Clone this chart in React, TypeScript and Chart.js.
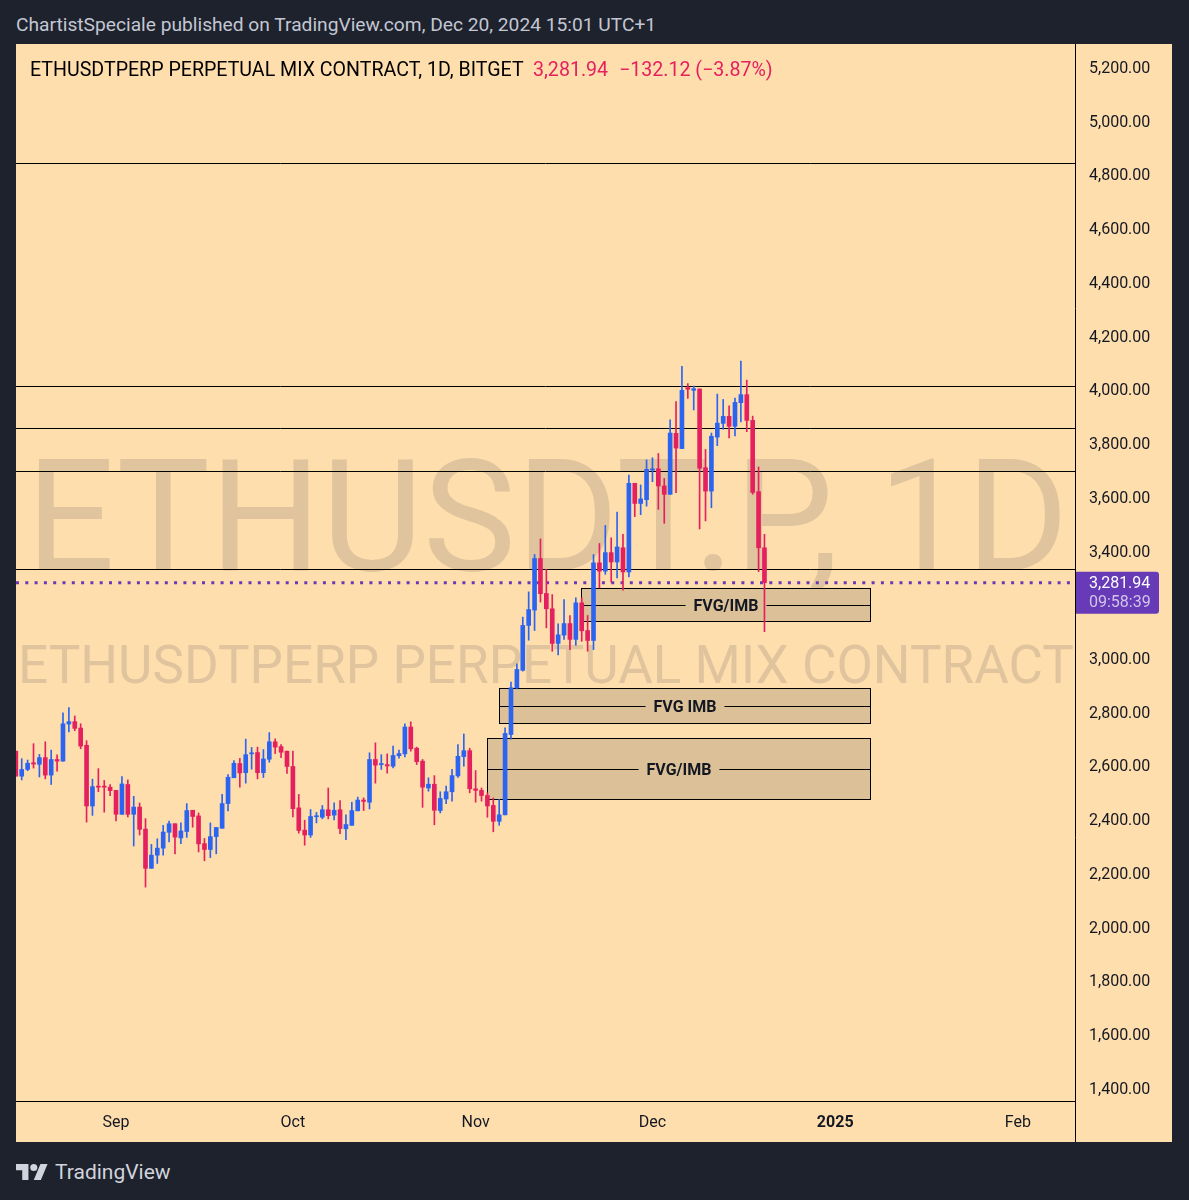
import React, { useEffect, useRef } from 'react';
import { Chart, registerables } from 'chart.js';

Chart.register(...registerables);

// one candle per day, Aug 15 to Dec 20 2024
const dates = [
  'Aug 15', 'Aug 16', 'Aug 17', 'Aug 18', 'Aug 19', 'Aug 20', 'Aug 21', 'Aug 22', 'Aug 23', 'Aug 24', 'Aug 25', 'Aug 26', 'Aug 27', 'Aug 28', 'Aug 29', 'Aug 30', 'Aug 31',
  'Sep 1', 'Sep 2', 'Sep 3', 'Sep 4', 'Sep 5', 'Sep 6', 'Sep 7', 'Sep 8', 'Sep 9', 'Sep 10', 'Sep 11', 'Sep 12', 'Sep 13', 'Sep 14', 'Sep 15', 'Sep 16', 'Sep 17', 'Sep 18', 'Sep 19', 'Sep 20', 'Sep 21', 'Sep 22', 'Sep 23', 'Sep 24', 'Sep 25', 'Sep 26', 'Sep 27', 'Sep 28', 'Sep 29', 'Sep 30',
  'Oct 1', 'Oct 2', 'Oct 3', 'Oct 4', 'Oct 5', 'Oct 6', 'Oct 7', 'Oct 8', 'Oct 9', 'Oct 10', 'Oct 11', 'Oct 12', 'Oct 13', 'Oct 14', 'Oct 15', 'Oct 16', 'Oct 17', 'Oct 18', 'Oct 19', 'Oct 20', 'Oct 21', 'Oct 22', 'Oct 23', 'Oct 24', 'Oct 25', 'Oct 26', 'Oct 27', 'Oct 28', 'Oct 29', 'Oct 30', 'Oct 31',
  'Nov 1', 'Nov 2', 'Nov 3', 'Nov 4', 'Nov 5', 'Nov 6', 'Nov 7', 'Nov 8', 'Nov 9', 'Nov 10', 'Nov 11', 'Nov 12', 'Nov 13', 'Nov 14', 'Nov 15', 'Nov 16', 'Nov 17', 'Nov 18', 'Nov 19', 'Nov 20', 'Nov 21', 'Nov 22', 'Nov 23', 'Nov 24', 'Nov 25', 'Nov 26', 'Nov 27', 'Nov 28', 'Nov 29', 'Nov 30',
  'Dec 1', 'Dec 2', 'Dec 3', 'Dec 4', 'Dec 5', 'Dec 6', 'Dec 7', 'Dec 8', 'Dec 9', 'Dec 10', 'Dec 11', 'Dec 12', 'Dec 13', 'Dec 14', 'Dec 15', 'Dec 16', 'Dec 17', 'Dec 18', 'Dec 19', 'Dec 20',
];

const opens = [
  2655, 2562, 2587, 2612, 2606, 2631, 2566, 2624, 2618, 2756, 2765, 2741, 2677, 2451, 2525, 2525, 2521,
  2509, 2420, 2531, 2420, 2447, 2365, 2219, 2268, 2294, 2353, 2385, 2332, 2356, 2435, 2414, 2311, 2289, 2337, 2368, 2460, 2556, 2609, 2575, 2645, 2650, 2575, 2625, 2690, 2672, 2655,
  2598, 2444, 2361, 2343, 2411, 2409, 2437, 2417, 2437, 2366, 2379, 2433, 2473, 2465, 2624, 2605, 2605, 2599, 2638, 2645, 2745, 2666, 2618, 2518, 2532, 2434, 2477, 2504, 2563, 2635, 2657,
  2515, 2509, 2490, 2453, 2394, 2418, 2717, 2891, 2956, 3123, 3180, 3372, 3242, 3185, 3056, 3087, 3130, 3071, 3207, 3104, 3067, 3356, 3325, 3394, 3359, 3412, 3322, 3652, 3577, 3591,
  3701, 3706, 3642, 3611, 3838, 3781, 4008, 3998, 4003, 3710, 3623, 3824, 3875, 3901, 3864, 3952, 3982, 3886, 3621, 3412,
];
const highs = [
  2655, 2627, 2622, 2683, 2643, 2690, 2659, 2641, 2798, 2817, 2786, 2757, 2694, 2551, 2590, 2546, 2531,
  2509, 2560, 2548, 2487, 2462, 2404, 2308, 2329, 2379, 2395, 2385, 2388, 2460, 2435, 2425, 2330, 2388, 2371, 2494, 2568, 2620, 2628, 2700, 2669, 2670, 2661, 2724, 2701, 2680, 2655,
  2655, 2494, 2398, 2438, 2427, 2453, 2518, 2463, 2471, 2418, 2465, 2484, 2481, 2649, 2686, 2642, 2645, 2674, 2659, 2757, 2764, 2670, 2624, 2556, 2564, 2504, 2525, 2587, 2680, 2719, 2666,
  2583, 2518, 2500, 2481, 2475, 2742, 2912, 2980, 3154, 3248, 3387, 3445, 3331, 3238, 3129, 3219, 3160, 3226, 3226, 3160, 3387, 3428, 3495, 3449, 3545, 3462, 3683, 3652, 3646, 3739,
  3747, 3763, 3670, 3888, 3956, 4087, 4023, 4014, 4003, 3778, 3839, 3984, 3964, 3940, 3969, 4107, 4036, 3902, 3713, 3462,
];
const lows = [
  2562, 2548, 2582, 2592, 2559, 2552, 2531, 2581, 2618, 2727, 2731, 2664, 2391, 2416, 2504, 2428, 2489,
  2395, 2420, 2410, 2302, 2343, 2149, 2219, 2237, 2268, 2317, 2273, 2311, 2334, 2372, 2280, 2247, 2259, 2273, 2368, 2433, 2556, 2521, 2536, 2588, 2552, 2557, 2614, 2646, 2631, 2572,
  2410, 2350, 2305, 2334, 2388, 2403, 2403, 2399, 2348, 2326, 2379, 2433, 2434, 2440, 2536, 2587, 2573, 2593, 2629, 2634, 2655, 2605, 2446, 2506, 2381, 2425, 2460, 2469, 2557, 2599, 2500,
  2465, 2469, 2409, 2355, 2379, 2418, 2700, 2887, 2953, 3068, 3104, 3210, 3114, 3027, 3013, 3071, 3033, 3049, 3064, 3027, 3033, 3263, 3313, 3284, 3300, 3254, 3304, 3528, 3535, 3567,
  3658, 3555, 3503, 3611, 3617, 3781, 3968, 3925, 3482, 3512, 3561, 3792, 3853, 3821, 3828, 3880, 3844, 3611, 3323, 3100,
];
const closes = [
  2562, 2587, 2610, 2607, 2631, 2566, 2624, 2618, 2757, 2765, 2740, 2674, 2451, 2523, 2521, 2521, 2508,
  2420, 2533, 2420, 2447, 2364, 2219, 2268, 2294, 2354, 2385, 2335, 2358, 2434, 2412, 2310, 2289, 2337, 2371, 2460, 2558, 2610, 2574, 2642, 2649, 2575, 2626, 2690, 2670, 2651, 2598,
  2441, 2360, 2343, 2412, 2414, 2437, 2415, 2435, 2367, 2382, 2434, 2473, 2468, 2624, 2603, 2609, 2600, 2639, 2646, 2745, 2664, 2616, 2521, 2532, 2435, 2479, 2504, 2564, 2636, 2657, 2515,
  2509, 2490, 2451, 2394, 2418, 2721, 2891, 2959, 3123, 3182, 3372, 3241, 3185, 3056, 3088, 3130, 3071, 3207, 3103, 3067, 3356, 3325, 3394, 3359, 3415, 3322, 3652, 3577, 3594, 3704,
  3706, 3642, 3611, 3839, 3783, 3998, 4002, 4004, 3708, 3623, 3827, 3876, 3901, 3864, 3953, 3982, 3886, 3618, 3412, 3281.94,
];

// month ticks, as days after Aug 15
const tickDays = [17, 47, 78, 108, 139, 170];
const tickLabels = ['Sep', 'Oct', 'Nov', 'Dec', '2025', 'Feb'];

// 3,200 is left out, the price tag covers it
const priceTicks = [1400, 1600, 1800, 2000, 2200, 2400, 2600, 2800, 3000, 3400, 3600, 3800, 4000, 4200, 4400, 4600, 4800, 5000, 5200];

const levels = [4843, 4013, 3855, 3696, 3331];
const lastPrice = 3281.94;
const countdown = '09:58:39';

const boxLabels = ['FVG/IMB', 'FVG IMB', 'FVG/IMB'];
const boxStartDays = [96, 82, 80];
const boxEndDays = [145, 145, 145];
const boxTops = [3261, 2889, 2703];
const boxBottoms = [3138, 2758, 2475];

const BLUE = '#2c64f2';
const RED = '#e5205f';
const fontFamily = 'Roboto, sans-serif';

const fmt = (v: number) =>
  v.toLocaleString('en-US', { minimumFractionDigits: 2, maximumFractionDigits: 2 });

// keep 1px lines crisp
const snap = (p: number) => Math.floor(p) + 0.5;

const overlays = {
  id: 'overlays',
  beforeDatasetsDraw(chart: any) {
    const { ctx, chartArea, scales } = chart;
    const { x, y } = scales;
    ctx.save();
    ctx.beginPath();
    ctx.rect(chartArea.left, chartArea.top, chartArea.width, chartArea.height);
    ctx.clip();

    ctx.strokeStyle = '#000';
    ctx.lineWidth = 1;
    levels.forEach((level) => {
      const py = snap(y.getPixelForValue(level));
      ctx.beginPath();
      ctx.moveTo(chartArea.left, py);
      ctx.lineTo(chartArea.right, py);
      ctx.stroke();
    });

    // zones
    boxLabels.forEach((label, i) => {
      const left = snap(x.getPixelForValue(boxStartDays[i]));
      const right = snap(x.getPixelForValue(boxEndDays[i]));
      const top = snap(y.getPixelForValue(boxTops[i]));
      const bottom = snap(y.getPixelForValue(boxBottoms[i]));
      const mid = snap((top + bottom) / 2);
      const center = (left + right) / 2;
      ctx.fillStyle = '#dcc198';
      ctx.fillRect(left, top, right - left, bottom - top);
      ctx.strokeStyle = '#000';
      ctx.lineWidth = 1;
      ctx.strokeRect(left, top, right - left, bottom - top);

      ctx.font = `bold 16px ${fontFamily}`;
      const half = ctx.measureText(label).width / 2;
      ctx.beginPath();
      ctx.moveTo(left, mid);
      ctx.lineTo(center - half - 8, mid);
      ctx.moveTo(center + half + 8, mid);
      ctx.lineTo(right, mid);
      ctx.stroke();
      ctx.fillStyle = '#131722';
      ctx.textAlign = 'center';
      ctx.textBaseline = 'middle';
      ctx.fillText(label, center, mid + 1);
    });

    // last price line
    const py = y.getPixelForValue(lastPrice);
    ctx.strokeStyle = '#673ab7';
    ctx.lineWidth = 3;
    ctx.setLineDash([3, 6.3]);
    ctx.beginPath();
    ctx.moveTo(chartArea.left, py);
    ctx.lineTo(chartArea.right, py);
    ctx.stroke();
    ctx.restore();
  },
  afterDraw(chart: any) {
    const { ctx, chartArea, scales } = chart;
    const py = scales.y.getPixelForValue(lastPrice);
    ctx.save();
    ctx.strokeStyle = '#000';
    ctx.lineWidth = 1;
    ctx.beginPath();
    ctx.moveTo(chartArea.right + 0.5, chartArea.bottom);
    ctx.lineTo(chartArea.right + 0.5, chart.height);
    ctx.stroke();

    // price tag on the axis
    const tagLeft = chartArea.right + 1;
    ctx.fillStyle = '#673ab7';
    ctx.beginPath();
    ctx.roundRect(tagLeft, py - 11, 83, 42, [0, 3, 3, 0]);
    ctx.fill();
    ctx.font = `16px ${fontFamily}`;
    ctx.textAlign = 'left';
    ctx.textBaseline = 'middle';
    ctx.fillStyle = '#ffffff';
    ctx.fillText(fmt(lastPrice), chartArea.right + 14, py + 1);
    ctx.fillStyle = '#d1c4e9';
    ctx.fillText(countdown, chartArea.right + 14, py + 20);
    ctx.restore();
  },
};

export default function App() {
  const canvasRef = useRef<HTMLCanvasElement | null>(null);

  useEffect(() => {
    if (!canvasRef.current) return;
    const isUp = opens.map((o, i) => closes[i] >= o);
    const colors = isUp.map((up) => (up ? BLUE : RED));
    const chart = new Chart(canvasRef.current, {
      type: 'bar',
      data: {
        datasets: [
          {
            label: 'Body',
            data: dates.map((_, i) => ({ x: i, y: [opens[i], closes[i]] })) as any,
            backgroundColor: colors,
            barThickness: 4,
            minBarLength: 1,
            grouped: false,
          },
          {
            label: 'Wick',
            data: dates.map((_, i) => ({ x: i, y: [lows[i], highs[i]] })) as any,
            backgroundColor: colors,
            barThickness: 1,
            grouped: false,
          },
        ],
      },
      options: {
        animation: false,
        responsive: false,
        layout: { padding: 0, autoPadding: false },
        plugins: { legend: { display: false }, tooltip: { enabled: false } },
        scales: {
          x: {
            type: 'linear',
            offset: false,
            bounds: 'data',
            min: 0.03,
            max: 179.68,
            grid: { display: false, offset: false, drawTicks: false },
            border: { color: '#000', width: 1 },
            afterBuildTicks: (scale: any) => {
              scale.ticks = tickDays.map((value) => ({ value }));
            },
            afterFit: (scale: any) => {
              scale.height = 41;
            },
            ticks: {
              autoSkip: false,
              maxRotation: 0,
              padding: 12,
              color: '#131722',
              font: (c: any) => ({
                family: fontFamily,
                size: 16,
                weight: c.tick && tickLabels[tickDays.indexOf(c.tick.value)] === '2025' ? 'bold' : 'normal',
              }),
              callback: (v: any) => tickLabels[tickDays.indexOf(v)],
            },
          },
          y: {
            type: 'linear',
            position: 'right',
            bounds: 'data',
            min: 1353,
            max: 5287,
            grid: { display: false, drawTicks: false },
            border: { color: '#000', width: 1 },
            afterBuildTicks: (scale: any) => {
              scale.ticks = priceTicks.map((value) => ({ value }));
            },
            afterFit: (scale: any) => {
              scale.width = 97;
              // tick padding would otherwise push the plot area down
              scale.paddingTop = 0;
              scale.paddingBottom = 0;
            },
            ticks: {
              autoSkip: false,
              padding: 14,
              labelOffset: 1.5,
              color: '#131722',
              font: { family: fontFamily, size: 16 },
              callback: (v: any) => fmt(Number(v)),
            },
          },
        },
      },
      plugins: [overlays],
    } as any);
    return () => chart.destroy();
  }, []);

  const abs = { position: 'absolute', whiteSpace: 'nowrap' } as const;

  return (
    <div style={{ position: 'absolute', left: 0, top: 0, width: 1189, height: 1200, background: '#1e222d', fontFamily, overflow: 'hidden' }}>
      <div style={{ ...abs, left: 16, top: 14, fontSize: 19.2, lineHeight: '22px', color: '#c3c7d3' }}>
        ChartistSpeciale published on TradingView.com, Dec 20, 2024 15:01 UTC+1
      </div>

      <div style={{ position: 'absolute', left: 16, top: 44, width: 1156, height: 1098, background: '#ffdead', overflow: 'hidden' }}>
        <div style={{ ...abs, left: 10, top: 378, fontSize: 156.5, lineHeight: '190px', color: '#dfc49d' }}>ETHUSDT.P, 1D</div>
        <div style={{ ...abs, left: 2, top: 588, fontSize: 53, lineHeight: '66px', color: '#dfc49d' }}>ETHUSDTPERP PERPETUAL MIX CONTRACT</div>
      </div>

      <canvas ref={canvasRef} width={1156} height={1098} style={{ position: 'absolute', left: 16, top: 44, width: 1156, height: 1098 }} />

      <div style={{ ...abs, left: 30, top: 59, fontSize: 19.6, lineHeight: '22px', color: '#000' }}>
        ETHUSDTPERP PERPETUAL MIX CONTRACT, 1D, BITGET
      </div>
      <div style={{ ...abs, left: 533, top: 59, fontSize: 19.6, lineHeight: '22px', color: RED }}>
        3,281.94
      </div>
      <div style={{ ...abs, left: 619, top: 59, fontSize: 19.6, lineHeight: '22px', color: RED }}>
        −132.12 (−3.87%)
      </div>

      <svg width={32} height={16} viewBox="0 4 36 18" style={{ position: 'absolute', left: 16, top: 1164 }}>
        <path d="M14 22H7V11H0V4h14v18zM28 22h-8l7.5-18h8L28 22z" fill="#d1d4dc" />
        <circle cx={20} cy={8} r={4} fill="#d1d4dc" />
      </svg>
      <div style={{ ...abs, left: 55, top: 1159, fontSize: 21, lineHeight: '26px', color: '#d1d4dc' }}>TradingView</div>
    </div>
  );
}
